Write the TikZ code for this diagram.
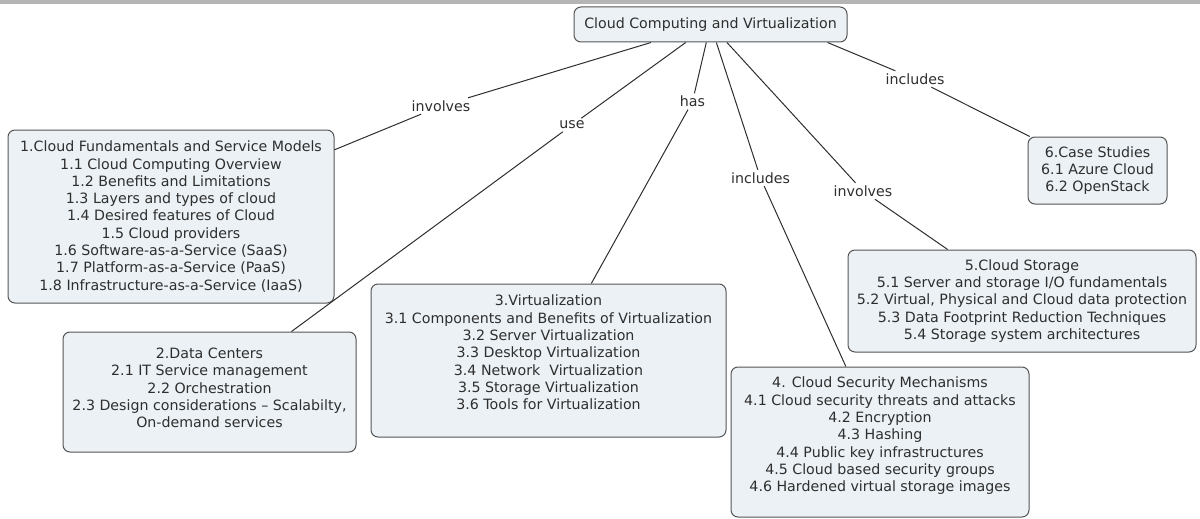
\documentclass[tikz,border=0pt]{standalone}
\usepackage{fontspec}
\setmainfont{DejaVu Sans}

\definecolor{boxfill}{HTML}{EBF1F5}
\definecolor{boxline}{HTML}{555555}
\definecolor{ink}{HTML}{2E2E2E}
\definecolor{barcol}{HTML}{B5B5B5}

\begin{document}
\begin{tikzpicture}[
  x=1pt, y=-1pt,
  font=\fontsize{14.2}{17.3}\selectfont,
  text=ink,
  concept/.style={draw=boxline, fill=boxfill, rounded corners=7pt, line width=1pt, align=center, inner sep=3pt},
  lbl/.style={inner sep=2.5pt},
  link/.style={draw=ink, line width=1pt}
]
\useasboundingbox (0,0) rectangle (1200,519);
\fill[barcol] (0,0) rectangle (1200,4);

% root
\node[concept, minimum width=273pt, minimum height=35pt] (root) at (710.5,24.5) {Cloud Computing and Virtualization};

% topics
\node[concept, minimum width=326pt, minimum height=173pt] (fund) at (171,216.5) {1.Cloud Fundamentals and Service Models\\1.1 Cloud Computing Overview\\1.2 Benefits and Limitations\\1.3 Layers and types of cloud\\1.4 Desired features of Cloud\\1.5 Cloud providers\\1.6 Software-as-a-Service (SaaS)\\1.7 Platform-as-a-Service (PaaS)\\1.8 Infrastructure-as-a-Service (IaaS)};
\node[concept, minimum width=293pt, minimum height=120pt] (dc) at (209.5,392) {2.Data Centers\\2.1 IT Service management\\2.2 Orchestration\\2.3 Design considerations -- Scalabilty,\\On-demand services\rule[-8pt]{0pt}{8pt}};
\node[concept, minimum width=355pt, minimum height=153pt] (virt) at (548.5,360.5) {3.Virtualization\\3.1 Components and Benefits of Virtualization\\3.2 Server Virtualization\\3.3 Desktop Virtualization\\3.4 Network~ Virtualization\\3.5 Storage Virtualization\\3.6 Tools for Virtualization\rule[-16pt]{0pt}{16pt}};
\node[concept, minimum width=298pt, minimum height=150pt] (sec) at (880,442) {4. Cloud Security Mechanisms\\4.1 Cloud security threats and attacks\\4.2 Encryption\\4.3 Hashing\\4.4 Public key infrastructures\\4.5 Cloud based security groups\\4.6 Hardened virtual storage images\rule[-15pt]{0pt}{15pt}};
\node[concept, minimum width=348pt, minimum height=102pt] (stor) at (1022,301) {5.Cloud Storage\\5.1 Server and storage I/O fundamentals\\5.2 Virtual, Physical and Cloud data protection\\5.3 Data Footprint Reduction Techniques\\5.4 Storage system architectures};
\node[concept, minimum width=139pt, minimum height=67pt] (case) at (1097.5,170.5) {6.Case Studies\\6.1 Azure Cloud\\6.2 OpenStack};

% link phrases
\node[lbl] (l1) at (441,106) {involves};
\node[lbl] (l2) at (572,125) {use};
\node[lbl] (l3) at (692.5,101.5) {has};
\node[lbl] (l4) at (760.5,178) {includes};
\node[lbl] (l5) at (863,191) {involves};
\node[lbl] (l6) at (915,79) {includes};

% links
\draw[link] (root) -- (l1);
\draw[link] (l1) -- (fund);
\draw[link] (root) -- (l2);
\draw[link] (l2) -- (dc);
\draw[link] (root) -- (l3);
\draw[link] (l3) -- (virt);
\draw[link] (root) -- (l4);
\draw[link] (l4) -- (sec);
\draw[link] (root) -- (l5);
\draw[link] (l5) -- (stor);
\draw[link] ([xshift=-20pt]root.south east) -- (l6);
\draw[link] (l6) -- (case);

\end{tikzpicture}
\end{document}
